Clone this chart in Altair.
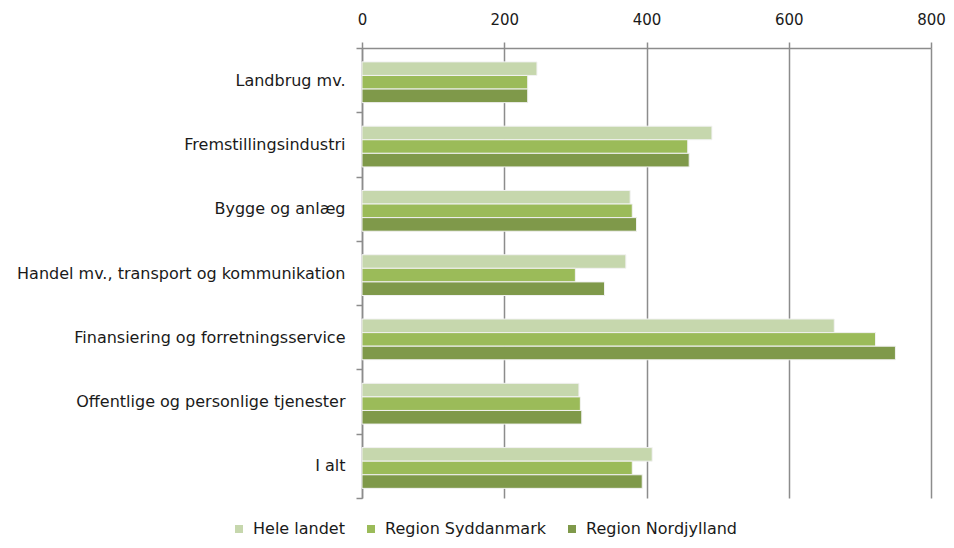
import altair as alt
import pandas as pd

categories = [
    "Landbrug mv.",
    "Fremstillingsindustri",
    "Bygge og anlæg",
    "Handel mv., transport og kommunikation",
    "Finansiering og forretningsservice",
    "Offentlige og personlige tjenester",
    "I alt",
]
series = ["Hele landet", "Region Syddanmark", "Region Nordjylland"]
hele_landet = [246, 492, 377, 371, 664, 305, 408]
syddanmark = [233, 458, 380, 300, 722, 307, 380]
nordjylland = [233, 460, 386, 341, 750, 309, 394]
colors = ["#c6d7ad", "#9bbb59", "#7f994a"]
x_ticks = [0, 200, 400, 600, 800]

rows = []
for s, vals in zip(series, [hele_landet, syddanmark, nordjylland]):
    for c, v in zip(categories, vals):
        rows.append({"Kategori": c, "Serie": s, "Værdi": v})
df = pd.DataFrame(rows)

FONT = "DejaVu Sans"
GRID = "#8c8c8c"
TXT = "#1a1a1a"

chart = (
    alt.Chart(df)
    .mark_bar(stroke="#f2f2f2", strokeWidth=1)
    .encode(
        y=alt.Y(
            "Kategori:N",
            sort=categories,
            title=None,
            scale=alt.Scale(paddingInner=0, paddingOuter=0),
            axis=alt.Axis(
                tickBand="extent",
                domainColor=GRID,
                domainWidth=1.5,
                tickColor=GRID,
                tickWidth=1.5,
                tickSize=6,
                labelPadding=11,
                labelFont=FONT,
                labelFontSize=16,
                labelColor=TXT,
                labelLimit=500,
                grid=False,
            ),
        ),
        yOffset=alt.YOffset(
            "Serie:N",
            sort=series,
            scale=alt.Scale(paddingInner=0, paddingOuter=0.866, align=0.59),
        ),
        x=alt.X(
            "Værdi:Q",
            title=None,
            scale=alt.Scale(domain=[0, 800], nice=False),
            axis=alt.Axis(
                orient="top",
                values=x_ticks,
                labelFlush=False,
                domainColor=GRID,
                domainWidth=1.5,
                tickColor=GRID,
                tickWidth=1.5,
                tickSize=6,
                labelPadding=15,
                labelFont=FONT,
                labelFontSize=15,
                labelColor=TXT,
                grid=True,
                gridColor=GRID,
                gridWidth=1.5,
            ),
        ),
        color=alt.Color(
            "Serie:N",
            sort=series,
            scale=alt.Scale(domain=series, range=colors),
            legend=alt.Legend(
                title=None,
                orient="none",
                direction="horizontal",
                legendX=-131,
                legendY=473,
                symbolType="square",
                symbolSize=64,
                symbolStrokeWidth=0,
                labelFont=FONT,
                labelFontSize=16,
                labelColor=TXT,
                labelOffset=6,
                labelLimit=400,
                columnPadding=18,
            ),
        ),
    )
    .properties(
        width=569,
        height=450,
        autosize=alt.AutoSizeParams(type="none"),
        padding={"left": 354, "top": 40, "right": 15, "bottom": 42},
    )
    .configure_view(stroke=None)
)

chart.save("out.html", embed_options={"renderer": "svg", "actions": False})
